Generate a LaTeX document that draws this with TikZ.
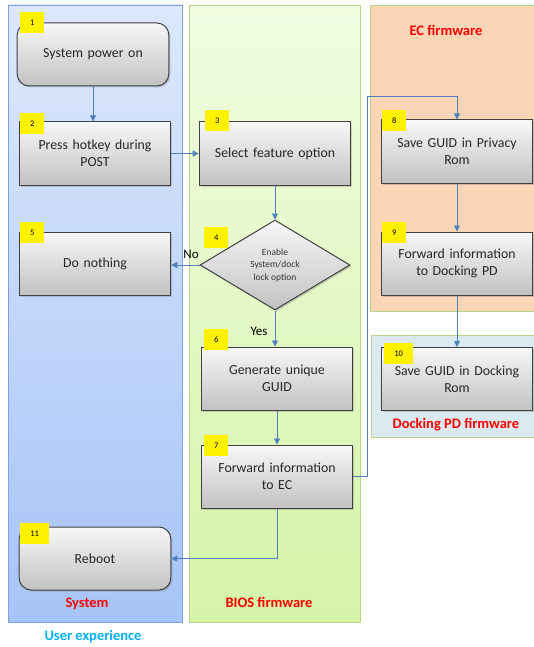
\documentclass[tikz,border=0pt]{standalone}
\usepackage{fontspec}
\setmainfont{Carlito}
\usepackage{xcolor}
\usepackage{tikz}
\usetikzlibrary{arrows.meta,
                calc,
                positioning,
                shadows,
                shapes.geometric}

\definecolor{flowblue}{HTML}{4F81BD}
\definecolor{usercyan}{HTML}{00B0F0}
\definecolor{systop}{HTML}{DDE8FC}
\definecolor{sysbot}{HTML}{A6C4F7}
\definecolor{sysline}{HTML}{7EA2DA}
\definecolor{biostop}{HTML}{F1FCE2}
\definecolor{biosbot}{HTML}{D5F4A8}
\definecolor{biosline}{HTML}{B6D68C}
\definecolor{ecfill}{HTML}{FAD5B6}
\definecolor{pdfill}{HTML}{DBEAF1}

\begin{document}
\begin{tikzpicture}[x=1pt, y=-1pt,
  lane/.style={line width=0.8pt},
  stepbox/.style={draw=black!75, line width=1pt, top color=gray!6, bottom color=gray!48,
    minimum width=150pt, minimum height=63pt, text width=145pt, align=center,
    font=\fontsize{13.8}{17}\selectfont, text=black!85,
    drop shadow={shadow xshift=1.5pt, shadow yshift=-1.5pt, opacity=0.35}},
  roundbox/.style={stepbox, rounded corners=12pt},
  badge/.style={fill=yellow, anchor=north west, minimum width=24pt, minimum height=21pt,
    inner sep=0pt, font=\fontsize{8.5}{9}\selectfont},
  flow/.style={draw=flowblue, line width=0.8pt, -{Triangle[length=6pt,width=6pt]}},
  lanetitle/.style={text=red, font=\bfseries\fontsize{14.5}{17}\selectfont}]
\useasboundingbox (0,0) rectangle (534,647);

% swim lanes
\draw[lane, draw=sysline, top color=systop, bottom color=sysbot] (8,5) rectangle (182,622);
\draw[lane, draw=biosline, top color=biostop, bottom color=biosbot] (189,5) rectangle (360,622);
\draw[lane, draw=biosline, fill=ecfill] (370,5) rectangle (540,311);
\draw[lane, draw=biosline, fill=pdfill] (371,335) rectangle (540,437);

% steps
\node[roundbox] (b1) at (93,54.5) {System power on};
\node[stepbox] (b2) at (95,153.5) {Press hotkey during\\POST};
\node[stepbox] (b3) at (275,153.5) {Select feature option};
\node[diamond, draw=black!75, line width=1pt, top color=gray!6, bottom color=gray!48,
  aspect=1.67, minimum width=150pt, minimum height=90pt, inner sep=0pt, align=center,
  font=\fontsize{9.5}{12.5}\selectfont, text=black!80,
  drop shadow={shadow xshift=1.5pt, shadow yshift=-1.5pt, opacity=0.35}]
  (b4) at (275,265) {Enable\\System/dock\\lock option};
\node[stepbox] (b5) at (95,263.5) {Do nothing};
\node[stepbox] (b6) at (277,378.5) {Generate unique\\GUID};
\node[stepbox] (b7) at (277,476.5) {Forward information\\to EC};
\node[stepbox] (b8) at (457,151.5) {Save GUID in Privacy\\Rom};
\node[stepbox] (b9) at (457,263.5) {Forward information\\to Docking PD};
\node[stepbox] (b10) at (457,379) {Save GUID in Docking\\Rom};
\node[roundbox] (b11) at (95,558.5) {Reboot};

% step numbers
\foreach \n/\x/\y in {1/20/12, 2/20/113, 3/205/110, 4/204/227, 5/20/222, 6/204/329,
                      7/204/435, 8/382/110, 9/382/222}
  \node[badge] (n\n) at (\x,\y) {\n};
\foreach \n/\x/\y in {10/384/343, 11/20/523}
  \node[badge, minimum width=29pt] (n\n) at (\x,\y) {\n};

% connectors
\draw[flow] (b1.south) -- (b1.south |- b2.north);
\draw[flow] (b2.east) -- (b3.west);
\draw[flow] (b3.south) -- (b4.north);
\draw[flow] (b4.west) -- (b4.west -| b5.east);
\draw[flow] (b4.south) -- (b4.south |- b6.north);
\draw[flow] (b6.south) -- (b7.north);
\draw[flow] (b7.east) -- ++(14,0) |- ([yshift=23pt]b8.north) -- (b8.north);
\draw[flow] (b8.south) -- (b9.north);
\draw[flow] (b9.south) -- (b10.north);
\draw[flow] (b7.south) |- (b11.east);

\node[font=\fontsize{13}{15}\selectfont] (no) at (191,254) {No};
\node[font=\fontsize{13}{15}\selectfont] (yes) at (259,331) {Yes};

% lane titles
\node[lanetitle] (ec) at (446,30) {EC firmware};
\node[lanetitle] (pd) at (456,425) {Docking PD firmware};
\node[lanetitle] (sys) at (87,604) {System};
\node[lanetitle] (bios) at (269,602) {BIOS firmware};
\node[lanetitle, text=usercyan] (ux) at (93,637) {User experience};
\end{tikzpicture}
\end{document}
